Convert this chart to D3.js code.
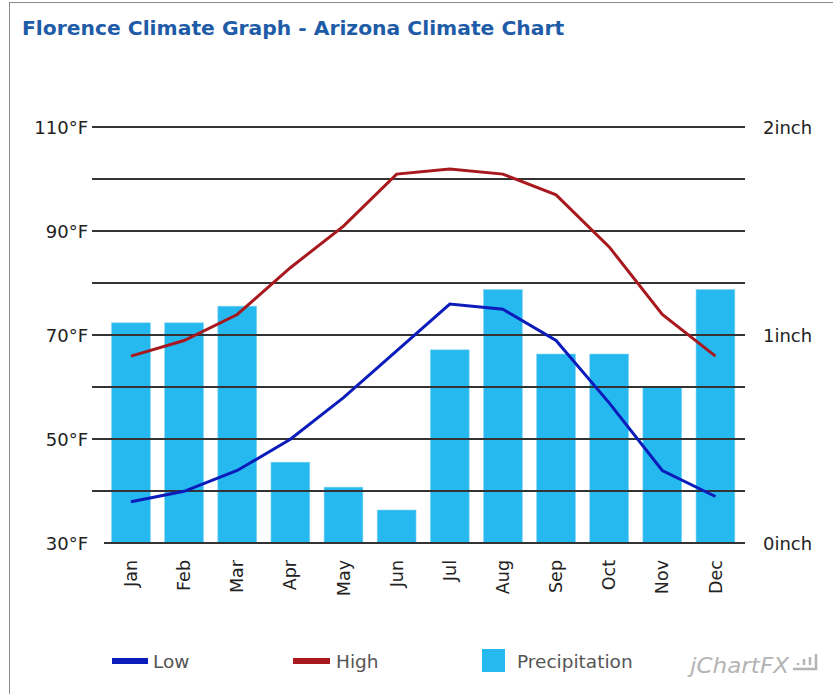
<!DOCTYPE html>
<html lang="en">
<head>
<meta charset="utf-8">
<title>Florence Climate Graph - Arizona Climate Chart</title>
<style>
  body{ margin:0; background:#fff; }
  svg{ display:block; font-family:"DejaVu Sans", Verdana, sans-serif; }
  .grid line{ stroke:#333; stroke-width:2; }
  .lbl{ font-size:18px; fill:#222; }
  .month{ font-size:17.5px; fill:#222; }
  .legend text{ font-size:18.5px; fill:#555; }
</style>
</head>
<body>
<div id="container"></div>
<script src="https://cdn.jsdelivr.net/npm/d3@7"></script>
<script>
  // values
  var months = ["Jan","Feb","Mar","Apr","May","Jun","Jul","Aug","Sep","Oct","Nov","Dec"];
  var high = [66, 69, 74, 83, 91, 101, 102, 101, 97, 87, 74, 66];
  var low = [38, 40, 44, 50, 58, 67, 76, 75, 69, 57, 44, 39];
  var precip = [1.06, 1.06, 1.14, 0.39, 0.27, 0.16, 0.93, 1.22, 0.91, 0.91, 0.75, 1.22];
  var tempTicks = [30, 40, 50, 60, 70, 80, 90, 100, 110];
  var tempLabels = [30, 50, 70, 90, 110];
  var precipLabels = [0, 1, 2];

  var width = 833, height = 694;
  var svg = d3.select('#container').append('svg')
    .attr('width', width).attr('height', height);

  // frame
  svg.append('rect')
    .attr('x', 9.5).attr('y', 2.5)
    .attr('width', 900).attr('height', 900)
    .attr('fill', '#fff').attr('stroke', '#8a8a8a');

  svg.append('text')
    .attr('x', 22).attr('y', 35)
    .attr('font-size', 20.3).attr('font-weight', 'bold')
    .attr('fill', '#1e5ca8')
    .text('Florence Climate Graph - Arizona Climate Chart');

  var x = d3.scalePoint().domain(months).range([104.4, 742]).padding(0.5);
  var step = x.step();
  var yT = d3.scaleLinear().domain([30, 110]).range([543.3, 127.3]);
  var yP = d3.scaleLinear().domain([0, 2]).range([543.3, 127.3]);

  // bars
  var barW = step * 0.73;
  svg.append('g').selectAll('rect').data(precip).enter()
    .append('rect')
    .attr('x', function(d, i){ return x(months[i]) - barW / 2; })
    .attr('y', function(d){ return yP(d); })
    .attr('width', barW)
    .attr('height', function(d){ return yP(0) - yP(d); })
    .attr('fill', '#25b9ef')
    .attr('stroke', '#7fd3f4').attr('stroke-width', 0.6);

  // gridlines on top of the bars
  var grid = svg.append('g').attr('class', 'grid');
  grid.selectAll('line').data(tempTicks).enter()
    .append('line')
    .attr('x1', function(d){ return d === 30 ? 104 : 92; })
    .attr('x2', 745)
    .attr('y1', function(d){ return Math.round(yT(d)); })
    .attr('y2', function(d){ return Math.round(yT(d)); });

  svg.append('g').selectAll('text').data(tempLabels).enter()
    .append('text').attr('class', 'lbl')
    .attr('x', 88).attr('y', function(d){ return yT(d); })
    .attr('dy', '0.36em').attr('text-anchor', 'end')
    .text(function(d){ return d + '°F'; });

  svg.append('g').selectAll('text').data(precipLabels).enter()
    .append('text').attr('class', 'lbl')
    .attr('x', 763).attr('y', function(d){ return yP(d); })
    .attr('dy', '0.36em')
    .text(function(d){ return d + 'inch'; });

  svg.append('g').selectAll('text').data(months).enter()
    .append('text').attr('class', 'month')
    .attr('transform', function(d){ return 'translate(' + x(d) + ',560) rotate(-90)'; })
    .attr('dy', '0.35em').attr('text-anchor', 'end')
    .text(function(d){ return d; });

  // lines
  var line = function(vals){
    return d3.line()
      .x(function(d, i){ return x(months[i]); })
      .y(function(d){ return yT(d); })(vals);
  };
  svg.append('path').attr('d', line(high))
    .attr('fill', 'none').attr('stroke', '#a8181f').attr('stroke-width', 3);
  svg.append('path').attr('d', line(low))
    .attr('fill', 'none').attr('stroke', '#0c1cbb').attr('stroke-width', 3);

  // legend
  var legend = svg.append('g').attr('class', 'legend');
  legend.append('rect').attr('x', 112).attr('y', 658).attr('width', 36).attr('height', 6).attr('fill', '#0c1cbb');
  legend.append('text').attr('x', 153).attr('y', 668).text('Low');
  legend.append('rect').attr('x', 293).attr('y', 658).attr('width', 37).attr('height', 6).attr('fill', '#a8181f');
  legend.append('text').attr('x', 336).attr('y', 668).text('High');
  legend.append('rect').attr('x', 482).attr('y', 649).attr('width', 23).attr('height', 23).attr('fill', '#25b9ef');
  legend.append('text').attr('x', 517).attr('y', 668).text('Precipitation');

  // jChartFX mark
  var logo = svg.append('g').attr('transform', 'translate(690,0)');
  logo.append('text').attr('x', 0).attr('y', 673)
    .attr('font-size', 22).attr('font-style', 'italic')
    .attr('fill', '#b4b4b4')
    .attr('textLength', 99).attr('lengthAdjust', 'spacingAndGlyphs')
    .text('jChartFX');
  logo.append('path')
    .attr('d', 'M103,669 h23 v-15')
    .attr('fill', 'none').attr('stroke', '#b4b4b4').attr('stroke-width', 2.5);
  logo.append('path')
    .attr('d', 'M108,665 v-2 M114,665 v-6 M120,665 v-8')
    .attr('fill', 'none').attr('stroke', '#b4b4b4').attr('stroke-width', 2.5);
</script>
</body>
</html>
